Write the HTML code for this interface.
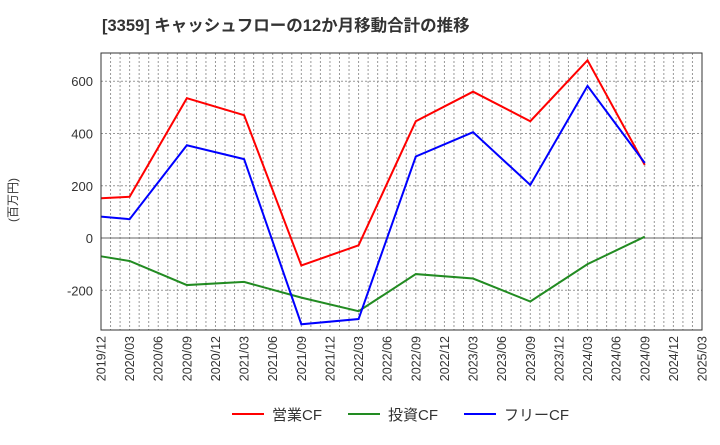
<!DOCTYPE html>
<html><head><meta charset="utf-8"><style>
body{margin:0;background:#fff;font-family:"Liberation Sans","Noto Sans CJK JP",sans-serif;}
</style></head><body>
<svg id="chart" width="720" height="440" xmlns="http://www.w3.org/2000/svg">
<text x="102" y="31" font-size="16.5" font-weight="bold" fill="#333">[3359]  キャッシュフローの12か月移動合計の推移</text>
<text transform="translate(17,200) rotate(-90)" font-size="12" fill="#333" text-anchor="middle">(百万円)</text>
<g id="grid"></g><g id="axes"></g><g id="series"></g>
<rect x="101" y="53" width="601" height="277" fill="none" stroke="#333" stroke-width="1"/>
<g>
<line x1="232" y1="414" x2="264" y2="414" stroke="#f00" stroke-width="2"/>
<text x="272" y="420" font-size="15" fill="#333">営業CF</text>
<line x1="348" y1="414" x2="380" y2="414" stroke="#228b22" stroke-width="2"/>
<text x="388" y="420" font-size="15" fill="#333">投資CF</text>
<line x1="464" y1="414" x2="496" y2="414" stroke="#00f" stroke-width="2"/>
<text x="504" y="420" font-size="15" fill="#333">フリーCF</text>
</g>
</svg>
<script>
const xLabels=["2019/12","2020/03","2020/06","2020/09","2020/12","2021/03","2021/06","2021/09","2021/12","2022/03","2022/06","2022/09","2022/12","2023/03","2023/06","2023/09","2023/12","2024/03","2024/06","2024/09","2024/12","2025/03"];
const pointIdx=[0,1,3,5,7,9,11,13,15,17,19];
const operatingCF=[152,158,535,470,-105,-28,447,560,447,680,280];
const investingCF=[-70,-88,-180,-168,-228,-280,-138,-155,-243,-100,5];
const freeCF=[82,72,355,302,-330,-310,312,405,203,582,287];
const yTicks=[-200,0,200,400,600];
const L=101,R=702,T=53,B=330,yMin=-352,yMax=708;
const NS="http://www.w3.org/2000/svg";
const xs=i=>L+(R-L)*i/(xLabels.length-1);
const ys=v=>B-(v-yMin)/(yMax-yMin)*(B-T);
const grid=document.getElementById('grid'),axes=document.getElementById('axes'),ser=document.getElementById('series');
function mk(t,a,p){const e=document.createElementNS(NS,t);for(const k in a)e.setAttribute(k,a[k]);p.appendChild(e);return e;}
const nm=(xLabels.length-1)*3;
for(let m=1;m<nm;m++){const x=L+(R-L)*m/nm;
const g=mk('line',{x1:x,x2:x,y1:T,y2:B,stroke:'#999','stroke-dasharray':'2,2','stroke-width':1},grid);

}
yTicks.forEach(v=>{const y=ys(v);
const g=mk('line',{x1:L,x2:R,y1:y,y2:y,stroke:v===0?'#666':'#999','stroke-dasharray':v===0?'none':'2,2','stroke-width':1},grid);


const t=mk('text',{x:L-8,y:y+5,'text-anchor':'end','font-size':13,fill:'#333'},axes);t.textContent=v;

});
xLabels.forEach((s,i)=>{const x=xs(i);
const t=mk('text',{transform:`translate(${x+4.5},${B+6}) rotate(-90)`,'text-anchor':'end','font-size':12.5,fill:'#333'},axes);t.textContent=s;

});
[[operatingCF,'#f00','operating-cf-line'],[investingCF,'#228b22','investing-cf-line'],[freeCF,'#00f','free-cf-line']].forEach(([d,c,n])=>{
const p=mk('polyline',{points:d.map((v,i)=>xs(pointIdx[i])+','+ys(v)).join(' '),fill:'none',stroke:c,'stroke-width':2},ser);

});
</script>
</body></html>
